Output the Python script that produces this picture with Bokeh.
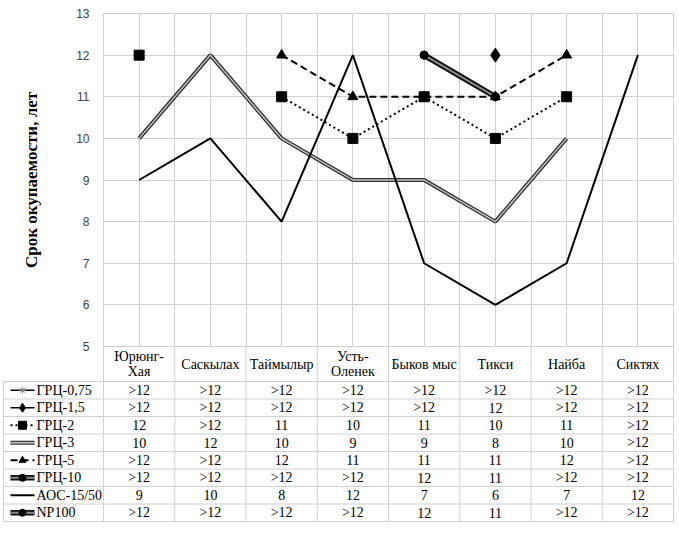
import math
from bokeh.plotting import figure
from bokeh.models import Range1d, FixedTicker, Grid
from bokeh.core.properties import value
from bokeh.embed import file_html
from bokeh.resources import INLINE

# ---------------- data ----------------
categories = ["Юрюнг-Хая", "Саскылах", "Таймылыр", "Усть-Оленек",
              "Быков мыс", "Тикси", "Найба", "Сиктях"]
header_labels = ["Юрюнг-\nХая", "Саскылах", "Таймылыр", "Усть-\nОленек",
                 "Быков мыс", "Тикси", "Найба", "Сиктях"]
series_names = ["ГРЦ-0,75", "ГРЦ-1,5", "ГРЦ-2", "ГРЦ-3",
                "ГРЦ-5", "ГРЦ-10", "АОС-15/50", "NP100"]
# None = "more than 12 years" (shown as ">12" in the table)
grc_0_75 = [None, None, None, None, None, None, None, None]
grc_1_5 = [None, None, None, None, None, 12, None, None]
grc_2 = [12, None, 11, 10, 11, 10, 11, None]
grc_3 = [10, 12, 10, 9, 9, 8, 10, None]
grc_5 = [None, None, 12, 11, 11, 11, 12, None]
grc_10 = [None, None, None, None, 12, 11, None, None]
aos_15_50 = [9, 10, 8, 12, 7, 6, 7, 12]
np100 = [None, None, None, None, 12, 11, None, None]
y_ticks = [5, 6, 7, 8, 9, 10, 11, 12, 13]
over_label = ">12"
y_title = "Срок окупаемости, лет"

series_values = [grc_0_75, grc_1_5, grc_2, grc_3, grc_5, grc_10, aos_15_50, np100]

# ---------------- styles / layout ----------------
GRID = "#d0d0d0"
SERIF = "Liberation Serif, Times New Roman, serif"
styles = [
    dict(lines=[("black", 1.5, "solid")], marker="asterisk", msize=8, mcolor="#8a8a8a", ksize=7),
    dict(lines=[("black", 1.5, "solid")], marker="diamond", msize=14, mcolor="black", ksize=9),
    dict(lines=[("black", 2, "2 3")], marker="square", msize=10, mcolor="black", ksize=8),
    dict(lines=[("#333333", 4, "solid"), ("#c8c8c8", 1.4, "solid")], marker=None),
    dict(lines=[("black", 2, "7 4")], marker="triangle", msize=10, mcolor="black", ksize=7),
    dict(lines=[("#111111", 5.5, "solid"), ("#8c8c8c", 2, "solid")], marker="circle", msize=8, mcolor="black", ksize=7),
    dict(lines=[("black", 2, "solid")], marker=None),
    dict(lines=[("#111111", 5.5, "solid"), ("#8c8c8c", 2, "solid")], marker="circle", msize=8, mcolor="black", ksize=7),
]

W, H = 679, 534
PLOT_L, PLOT_R, PLOT_T, PLOT_B = 103, 673, 13, 346   # chart area in pixels
Y_MIN_PLOT, Y_MAX_PLOT = 5, 13
n_cat = len(categories)
PX_X = (PLOT_R - PLOT_L) / n_cat
PX_Y = (PLOT_B - PLOT_T) / (Y_MAX_PLOT - Y_MIN_PLOT)
HEADER_H = 35 / PX_Y
ROW_H = 17.5 / PX_Y
LEFT_X = (3 - PLOT_L) / PX_X
header_bottom = Y_MIN_PLOT - HEADER_H
row_centers = [header_bottom - ROW_H * (i + 0.5) for i in range(len(series_names))]
table_bottom = header_bottom - ROW_H * len(series_names)

xs = [i + 0.5 for i in range(n_cat)]

p = figure(width=W, height=H,
           x_range=Range1d(-PLOT_L / PX_X, (W - PLOT_L) / PX_X),
           y_range=Range1d(Y_MIN_PLOT - (H - PLOT_B) / PX_Y, Y_MAX_PLOT + PLOT_T / PX_Y),
           x_axis_location=None, output_backend="svg", toolbar_location=None,
           min_border=0)
p.outline_line_color = None
p.background_fill_color = "white"
p.border_fill_color = "white"
p.grid.visible = False

# y axis placed at the left edge of the chart area
ax = p.yaxis[0]
ax.fixed_location = 0
ax.bounds = (Y_MIN_PLOT, Y_MAX_PLOT)
ax.ticker = FixedTicker(ticks=y_ticks)
ax.axis_line_color = None
ax.major_tick_line_color = None
ax.minor_tick_line_color = None
ax.major_tick_out = 0
ax.major_tick_in = 0
ax.major_label_standoff = 14
ax.major_label_text_font = "Liberation Sans"
ax.major_label_text_font_size = "12px"
ax.major_label_text_color = "#404040"
ax.axis_label = y_title
ax.axis_label_text_font = SERIF
ax.axis_label_text_font_style = "bold"
ax.axis_label_text_font_size = "17px"
ax.axis_label_text_color = "black"
ax.axis_label_standoff = 32

# grids of the chart area
half_ticks = [0, 0.5, 1, 1.5, 2, 2.5, 3, 3.5, 4, 4.5, 5, 5.5, 6, 6.5, 7, 7.5, 8]
p.add_layout(Grid(dimension=0, ticker=FixedTicker(ticks=half_ticks),
                  cross_bounds=(Y_MIN_PLOT, Y_MAX_PLOT), grid_line_color=GRID))
p.add_layout(Grid(dimension=1, ticker=FixedTicker(ticks=y_ticks),
                  cross_bounds=(0, n_cat), grid_line_color=GRID))

# table borders
h_ys = [header_bottom - ROW_H * i for i in range(len(series_names) + 1)]
p.segment(x0=[LEFT_X] * len(h_ys), x1=[n_cat] * len(h_ys), y0=h_ys, y1=h_ys,
          line_color=GRID, line_width=1)
v_xs = list(range(n_cat + 1))
p.segment(x0=v_xs, x1=v_xs, y0=[Y_MIN_PLOT] * len(v_xs), y1=[table_bottom] * len(v_xs),
          line_color=GRID, line_width=1)
p.segment(x0=[LEFT_X], x1=[LEFT_X], y0=[header_bottom], y1=[table_bottom],
          line_color=GRID, line_width=1)


def draw(xv, yv, st, marker_size_key="msize", mx=None, my=None):
    for color, width, dash in st["lines"]:
        p.line(xv, yv, line_color=color, line_width=width, line_dash=dash)
    if st.get("marker"):
        p.scatter(mx if mx is not None else xv, my if my is not None else yv,
                  marker=st["marker"], size=st[marker_size_key],
                  fill_color=st["mcolor"], line_color=st["mcolor"])


# series
for vals, st in zip(series_values, styles):
    ys = [float("nan") if v is None else v for v in vals]
    draw(xs, ys, st)

# table: header
serif = value(SERIF)
p.text(x=xs, y=[Y_MIN_PLOT - HEADER_H / 2] * n_cat, text=header_labels,
       text_align="center", text_baseline="middle", text_font=serif,
       text_font_size="14px", text_line_height=1.05, text_color="black")

# table: cells
cx, cy, ct = [], [], []
for i, vals in enumerate(series_values):
    for j, v in enumerate(vals):
        cx.append(xs[j])
        cy.append(row_centers[i])
        ct.append(over_label if v is None else str(v))
p.text(x=cx, y=cy, text=ct, text_align="center", text_baseline="middle",
       text_font=serif, text_font_size="14px", text_color="black")

# table: legend keys and names
KEY_X0, KEY_X1, NAME_X = (10 - PLOT_L) / PX_X, (34 - PLOT_L) / PX_X, (36 - PLOT_L) / PX_X
for i, st in enumerate(styles):
    yc = row_centers[i]
    draw([KEY_X0, KEY_X1], [yc, yc], st, marker_size_key="ksize",
         mx=[(KEY_X0 + KEY_X1) / 2], my=[yc])
p.text(x=[NAME_X] * len(series_names), y=row_centers, text=series_names,
       text_align="left", text_baseline="middle", text_font=serif,
       text_font_size="14px", text_color="black")

open("out.html", "w").write(file_html(p, INLINE))
